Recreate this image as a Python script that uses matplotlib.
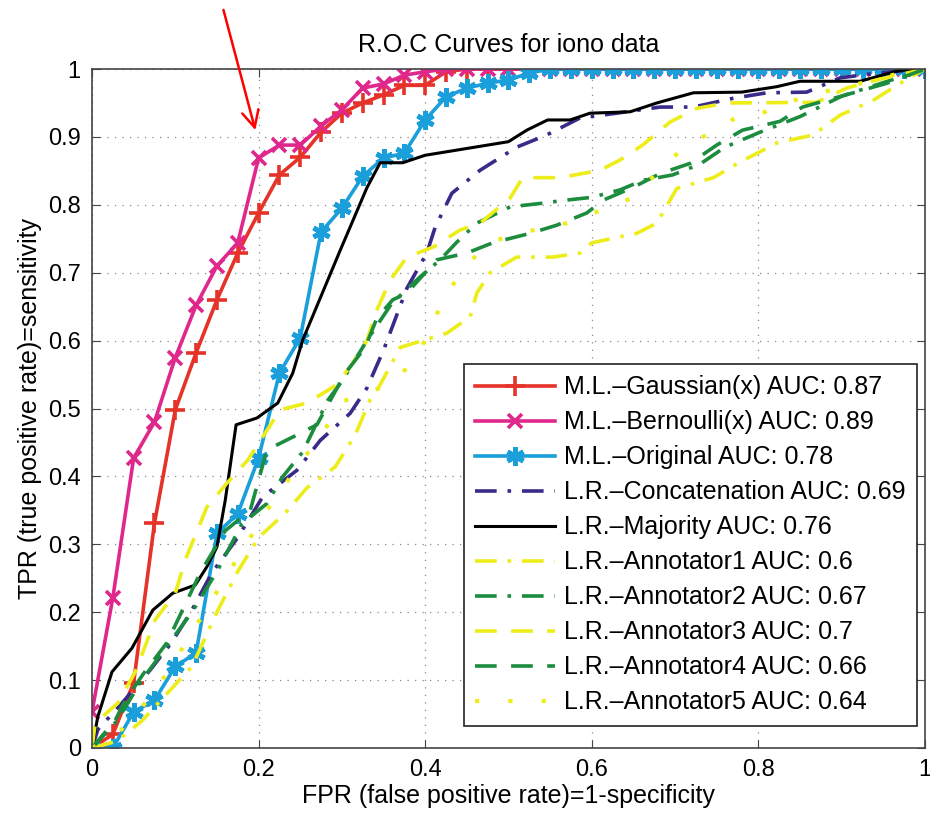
"""
ROC curves for iono data (ML vs LR baselines)
"""
import matplotlib
matplotlib.use("Agg")
import matplotlib.pyplot as plt

plt.rcParams["font.family"] = ["Liberation Sans", "DejaVu Sans"]

# ---- data ----------------------------------------------------------
ML_FPR = [0.0, 0.025, 0.05, 0.075, 0.1, 0.125, 0.15, 0.175, 0.2, 0.225,
          0.25, 0.275, 0.3, 0.325, 0.35, 0.375, 0.4, 0.425, 0.45, 0.475,
          0.5, 0.525, 0.55, 0.575, 0.6, 0.625, 0.65, 0.675, 0.7, 0.725,
          0.75, 0.775, 0.8, 0.825, 0.85, 0.875, 0.9, 0.925, 0.95, 0.975, 1.0]

gauss_tpr = [0.0, 0.02, 0.096, 0.331, 0.498, 0.582, 0.66, 0.729, 0.788, 0.844,
             0.87, 0.907, 0.935, 0.95, 0.962, 0.976, 0.976, 0.996, 1, 1,
             1, 1, 1, 1, 1, 1, 1, 1, 1, 1,
             1, 1, 1, 1, 1, 1, 1, 1, 1, 1, 1]
bern_tpr = [0.053, 0.221, 0.427, 0.48, 0.575, 0.652, 0.71, 0.744, 0.869, 0.888,
            0.888, 0.916, 0.94, 0.972, 0.978, 0.991, 0.996, 1, 1, 1,
            1, 1, 1, 1, 1, 1, 1, 1, 1, 1,
            1, 1, 1, 1, 1, 1, 1, 1, 1, 1, 1]
orig_tpr = [0.0, 0.0, 0.053, 0.07, 0.12, 0.14, 0.316, 0.345, 0.427, 0.552,
            0.604, 0.76, 0.795, 0.842, 0.869, 0.876, 0.925, 0.959, 0.972, 0.979,
            0.984, 0.994, 1, 1, 1, 1, 1, 1, 1, 1,
            1, 1, 1, 1, 1, 1, 1, 1, 1, 1, 1]

concat_fpr = [0, 0.007, 0.036, 0.07, 0.096, 0.12, 0.144, 0.175, 0.205, 0.246,
              0.274, 0.31, 0.33, 0.35, 0.378, 0.402, 0.412, 0.432, 0.466, 0.51,
              0.546, 0.586, 0.63, 0.682, 0.722, 0.77, 0.81, 0.858, 0.898, 0.942, 1]
concat_tpr = [0, 0.027, 0.066, 0.115, 0.156, 0.203, 0.258, 0.31, 0.37, 0.409,
              0.453, 0.493, 0.53, 0.586, 0.677, 0.729, 0.767, 0.817, 0.851, 0.885,
              0.903, 0.928, 0.935, 0.944, 0.944, 0.957, 0.965, 0.966, 0.987, 0.994, 1]

major_fpr = [0, 0.007, 0.024, 0.048, 0.073, 0.097, 0.124, 0.138, 0.15, 0.16,
             0.173, 0.198, 0.223, 0.241, 0.253, 0.298, 0.33, 0.346, 0.373, 0.4,
             0.5, 0.522, 0.547, 0.574, 0.598, 0.646, 0.678, 0.722, 0.78, 0.822,
             0.85, 0.922, 0.97, 1]
major_tpr = [0, 0.046, 0.112, 0.147, 0.203, 0.228, 0.24, 0.267, 0.296, 0.365,
             0.476, 0.486, 0.508, 0.552, 0.601, 0.733, 0.825, 0.862, 0.862, 0.873,
             0.893, 0.91, 0.925, 0.925, 0.935, 0.937, 0.95, 0.965, 0.966, 0.974,
             0.982, 0.982, 0.998, 1]

ann1_fpr = [0, 0.03, 0.06, 0.09, 0.12, 0.15, 0.175, 0.2, 0.232, 0.258, 0.292,
            0.316, 0.334, 0.346, 0.37, 0.397, 0.426, 0.454, 0.462, 0.478, 0.51,
            0.553, 0.586, 0.6, 0.634, 0.654, 0.678, 0.702, 0.746, 0.778, 0.822,
            0.866, 0.898, 0.938, 0.97, 1]
ann1_tpr = [0, 0.01, 0.04, 0.08, 0.12, 0.2, 0.26, 0.31, 0.346, 0.383, 0.414,
            0.461, 0.513, 0.535, 0.59, 0.6, 0.611, 0.635, 0.67, 0.7, 0.723,
            0.723, 0.729, 0.744, 0.753, 0.758, 0.773, 0.824, 0.84, 0.863, 0.891,
            0.903, 0.932, 0.954, 0.979, 1]

ann2_fpr = [0, 0.03, 0.06, 0.09, 0.12, 0.15, 0.18, 0.21, 0.228, 0.253, 0.283,
            0.3, 0.33, 0.36, 0.394, 0.418, 0.438, 0.462, 0.502, 0.538, 0.57,
            0.6, 0.634, 0.661, 0.697, 0.73, 0.76, 0.8, 0.85, 0.9, 0.95, 1]
ann2_tpr = [0, 0.04, 0.1, 0.15, 0.2, 0.26, 0.33, 0.36, 0.398, 0.436, 0.512,
            0.54, 0.6, 0.655, 0.694, 0.719, 0.745, 0.773, 0.797, 0.802, 0.807,
            0.811, 0.822, 0.836, 0.844, 0.86, 0.885, 0.906, 0.93, 0.96, 0.98, 1]

ann3_fpr = [0, 0.004, 0.031, 0.052, 0.076, 0.1, 0.112, 0.138, 0.162, 0.187,
            0.208, 0.226, 0.258, 0.29, 0.31, 0.33, 0.342, 0.358, 0.378, 0.41,
            0.442, 0.466, 0.502, 0.517, 0.562, 0.61, 0.634, 0.661, 0.694, 0.726,
            0.762, 0.87, 0.906, 0.942, 1]
ann3_tpr = [0, 0.037, 0.066, 0.112, 0.189, 0.228, 0.277, 0.355, 0.39, 0.424,
            0.464, 0.498, 0.508, 0.532, 0.561, 0.6, 0.645, 0.689, 0.723, 0.738,
            0.763, 0.773, 0.81, 0.84, 0.84, 0.851, 0.866, 0.888, 0.922, 0.942,
            0.95, 0.951, 0.972, 0.984, 1]

ann4_fpr = [0, 0.028, 0.04, 0.061, 0.09, 0.13, 0.16, 0.19, 0.21, 0.246, 0.27,
            0.304, 0.328, 0.342, 0.361, 0.378, 0.414, 0.45, 0.481, 0.526, 0.558,
            0.594, 0.614, 0.65, 0.682, 0.718, 0.75, 0.781, 0.826, 0.853, 0.914,
            0.954, 1]
ann4_tpr = [0, 0.041, 0.07, 0.108, 0.155, 0.258, 0.32, 0.35, 0.439, 0.461, 0.476,
            0.552, 0.59, 0.633, 0.66, 0.67, 0.719, 0.729, 0.744, 0.758, 0.77,
            0.788, 0.807, 0.826, 0.846, 0.861, 0.888, 0.91, 0.923, 0.944, 0.965,
            0.979, 1]

ann5_fpr = [0, 0.03, 0.06, 0.09, 0.12, 0.15, 0.18, 0.21, 0.25, 0.274, 0.3,
            0.35, 0.373, 0.4, 0.424, 0.45, 0.474, 0.52, 0.57, 0.622, 0.648,
            0.697, 0.723, 0.748, 0.774, 0.798, 0.85, 0.874, 0.93, 0.97, 1]
ann5_tpr = [0, 0.02, 0.06, 0.11, 0.17, 0.23, 0.29, 0.35, 0.42, 0.458, 0.51,
            0.532, 0.552, 0.6, 0.667, 0.71, 0.744, 0.76, 0.773, 0.797, 0.81,
            0.87, 0.893, 0.91, 0.929, 0.932, 0.957, 0.965, 0.981, 0.994, 1]

labels = [
    "M.L.\u2013Gaussian(x) AUC: 0.87",
    "M.L.\u2013Bernoulli(x) AUC: 0.89",
    "M.L.\u2013Original AUC: 0.78",
    "L.R.\u2013Concatenation AUC: 0.69",
    "L.R.\u2013Majority AUC: 0.76",
    "L.R.\u2013Annotator1 AUC: 0.6",
    "L.R.\u2013Annotator2 AUC: 0.67",
    "L.R.\u2013Annotator3 AUC: 0.7",
    "L.R.\u2013Annotator4 AUC: 0.66",
    "L.R.\u2013Annotator5 AUC: 0.64",
]

RED = "#e5332a"; PINK = "#e0288c"; CYAN = "#1b9fdb"; PURPLE = "#3b2a8a"
YEL = "#eded1a"; GRN = "#1c8c3e"

# ---- plot -----------------------------------------------------------
fig = plt.figure(figsize=(9.3, 8.17), dpi=100)
ax = fig.add_axes([0.0989, 0.0845, 0.8957, 0.831])

ax.plot(ML_FPR, gauss_tpr, color=RED, lw=2.6, marker="+", ms=15, mew=2.6,
        label=labels[0])
ax.plot(ML_FPR, bern_tpr, color=PINK, lw=2.6, marker="x", ms=10, mew=2.6,
        label=labels[1])
ax.plot(ML_FPR, orig_tpr, color=CYAN, lw=2.6, marker=(6, 2, 0), ms=13, mew=3.5,
        label=labels[2])
ax.plot(concat_fpr, concat_tpr, color=PURPLE, lw=2.6, ls=(0, (6, 3, 1, 3)),
        label=labels[3])
ax.plot(major_fpr, major_tpr, color="black", lw=2.2, label=labels[4])
ax.plot(ann1_fpr, ann1_tpr, color=YEL, lw=2.6, ls=(0, (6, 3, 1, 3)),
        label=labels[5])
ax.plot(ann2_fpr, ann2_tpr, color=GRN, lw=2.6, ls=(0, (6, 3, 1, 3)),
        label=labels[6])
ax.plot(ann3_fpr, ann3_tpr, color=YEL, lw=2.6, ls=(0, (6, 4)),
        label=labels[7])
ax.plot(ann4_fpr, ann4_tpr, color=GRN, lw=2.6, ls=(0, (6, 4)),
        label=labels[8])
ax.plot(ann5_fpr, ann5_tpr, color=YEL, lw=3.0, ls=(0, (1, 7)),
        label=labels[9])

ax.set_xlim(0, 1); ax.set_ylim(0, 1)
ax.set_xticks([0, 0.2, 0.4, 0.6, 0.8, 1])
ax.set_xticklabels(["0", "0.2", "0.4", "0.6", "0.8", "1"])
ax.set_yticks([i / 10 for i in range(11)])
ax.set_yticklabels(["0"] + [f"0.{i}" for i in range(1, 10)] + ["1"])
ax.tick_params(direction="in", top=True, right=True, labelsize=17, length=6,
               color="#444444", pad=8)
ax.grid(True, linestyle=(0, (1, 5)), color="#888888", lw=0.9)
for s in ax.spines.values():
    s.set_color("#444444"); s.set_linewidth(1.2)

ax.set_title("R.O.C Curves for iono data", fontsize=18, pad=12)
ax.set_xlabel("FPR (false positive rate)=1-specificity", fontsize=18, labelpad=2)
ax.set_ylabel("TPR (true positive rate)=sensitivity", fontsize=18, labelpad=4)

leg = ax.legend(loc="lower right", bbox_to_anchor=(0.99, 0.033), fontsize=18,
                handlelength=3.2, handletextpad=0.35, labelspacing=0.44,
                borderpad=0.45, borderaxespad=0, frameon=True, fancybox=False,
                framealpha=1)
leg.get_frame().set_edgecolor("#222222"); leg.get_frame().set_linewidth(1.2)

ax.annotate("", xy=(0.197, 0.906), xytext=(0.157, 1.091),
            arrowprops=dict(arrowstyle="->", color="red", lw=1.8,
                            mutation_scale=30),
            annotation_clip=False)

plt.savefig("out.png", dpi=100)
